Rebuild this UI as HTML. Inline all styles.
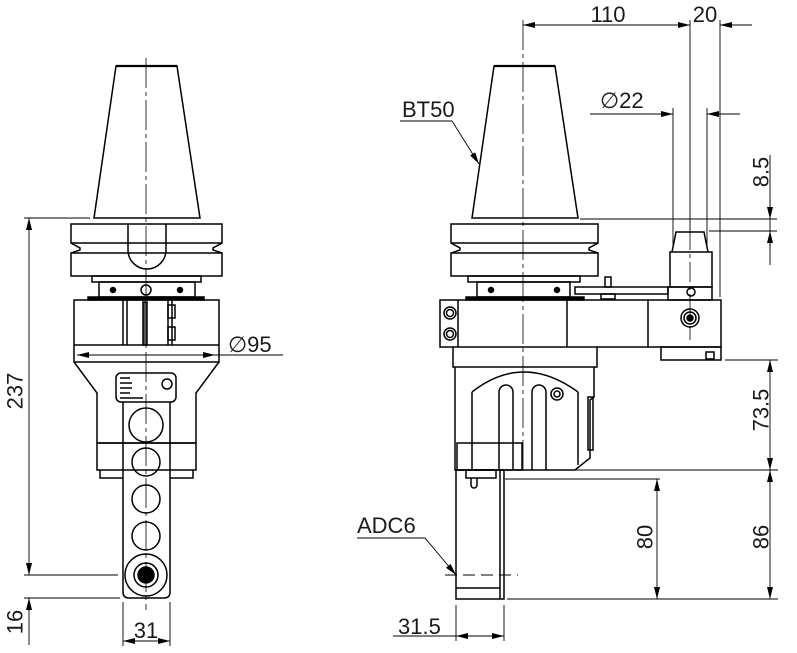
<!DOCTYPE html>
<html><head><meta charset="utf-8"><style>
html,body{margin:0;padding:0;background:#fff;}
svg{display:block;}
text{font-family:"Liberation Sans",sans-serif;fill:#1a1a1a;font-size:22px;}
</style></head><body>
<svg width="797" height="653" viewBox="0 0 797 653" xmlns="http://www.w3.org/2000/svg">
<defs>
<marker id="a" viewBox="0 0 12 6" refX="12" refY="3" markerWidth="12" markerHeight="6" orient="auto-start-reverse" markerUnits="userSpaceOnUse"><path d="M0,0 L12,3 L0,6z" fill="#000"/></marker>
</defs>
<g fill="none" stroke="#000" stroke-width="1.5">
<!-- LEFT VIEW -->
<line x1="146" y1="58" x2="146" y2="610" stroke-width="0.8" stroke-dasharray="30,4,4,4"/>
<path d="M116,66 L177,66 L200,218 L94,218 Z"/>
<line x1="116" y1="66" x2="177" y2="66" stroke-width="2.2"/>
<path d="M71,224 H222 V243 L213,248 V250 L222,253 V276 H71 V253 L80,250 V248 L71,243 Z"/>
<line x1="71" y1="243" x2="222" y2="243"/><line x1="71" y1="253" x2="222" y2="253"/>
<path d="M128,224 V250 A19,19 0 0 0 166,250 V224"/>
<rect x="92" y="276" width="109" height="6"/>
<rect x="99" y="282" width="96" height="15"/>
<circle cx="113" cy="290" r="2.5" fill="#000"/><circle cx="180" cy="290" r="2.5" fill="#000"/>
<circle cx="146" cy="290" r="5"/>
<rect x="88" y="297" width="116" height="3" fill="#000"/>
<rect x="74" y="300" width="145" height="62"/>
<line x1="74" y1="345" x2="219" y2="345"/>
<line x1="123" y1="300" x2="123" y2="345"/><line x1="127" y1="300" x2="127" y2="345"/>
<line x1="168" y1="300" x2="168" y2="345"/><line x1="172" y1="300" x2="172" y2="345"/>
<rect x="143" y="302" width="4" height="43" fill="#555"/>
<rect x="168" y="305" width="7" height="13"/><rect x="168" y="327" width="7" height="13"/>
<path d="M74,362 L97,393 V443 H196 V393 L219,362"/>
<rect x="97" y="443" width="99" height="27"/>
<path d="M100,470 V478 H123 M170,478 H193 V470"/>
<rect x="116" y="373" width="60" height="29" rx="5"/>
<g stroke-width="1.5"><line x1="120" y1="378" x2="130" y2="378"/><line x1="120" y1="383" x2="132" y2="383"/><line x1="120" y1="388" x2="132" y2="388"/><line x1="120" y1="393" x2="130" y2="393"/><line x1="120" y1="398" x2="143" y2="398"/></g>
<circle cx="167" cy="384" r="5"/>
<path d="M123,402 V592 Q123,598 129,598 H164 Q170,598 170,592 V402"/>
<circle cx="146" cy="425" r="17"/>
<circle cx="146" cy="462" r="14"/><circle cx="146" cy="499" r="14"/><circle cx="146" cy="536" r="14"/>
<circle cx="146" cy="575" r="21"/><circle cx="146" cy="575" r="12"/><circle cx="146" cy="575" r="8" fill="#000"/>
<!-- left dims -->
<g stroke-width="0.9">
<line x1="24" y1="218" x2="90" y2="218"/>
<line x1="29" y1="218" x2="29" y2="575" marker-start="url(#a)" marker-end="url(#a)"/>
<line x1="24" y1="575" x2="118" y2="575"/>
<line x1="24" y1="598" x2="120" y2="598"/>
<line x1="29" y1="598" x2="29" y2="645"/>
<line x1="29" y1="610" x2="29" y2="598" marker-end="url(#a)"/>
<line x1="123" y1="602" x2="123" y2="646"/><line x1="170" y1="602" x2="170" y2="646"/>
<line x1="123" y1="641" x2="170" y2="641" marker-start="url(#a)" marker-end="url(#a)"/>
<line x1="77" y1="355" x2="215" y2="355" marker-start="url(#a)" marker-end="url(#a)"/>
<line x1="215" y1="355" x2="283" y2="355"/>
</g>
<!-- RIGHT VIEW -->
<line x1="523" y1="20" x2="523" y2="470" stroke-width="0.8" stroke-dasharray="30,4,4,4"/>
<path d="M494,66 L555,66 L578,218 L472,218 Z"/>
<line x1="494" y1="66" x2="555" y2="66" stroke-width="2.2"/>
<path d="M451,224 H598 V243 L589,248 V250 L598,253 V276 H451 V253 L460,250 V248 L451,243 Z"/>
<line x1="451" y1="243" x2="598" y2="243"/><line x1="451" y1="253" x2="598" y2="253"/>
<rect x="468" y="276" width="112" height="6"/>
<rect x="477" y="282" width="93" height="15"/>
<circle cx="491" cy="290" r="2.5" fill="#000"/><circle cx="557" cy="290" r="2.5" fill="#000"/>
<rect x="466" y="297" width="118" height="3" fill="#000"/>
<rect x="440" y="300" width="281" height="47"/>
<line x1="458" y1="300" x2="458" y2="347"/>
<line x1="567" y1="300" x2="567" y2="347"/><line x1="648" y1="300" x2="648" y2="347"/>
<circle cx="450" cy="313" r="6"/><circle cx="450" cy="313" r="3.5"/>
<circle cx="450" cy="334" r="6"/><circle cx="450" cy="334" r="3.5"/>
<circle cx="690" cy="318" r="9"/><circle cx="690" cy="318" r="6"/><circle cx="690" cy="318" r="3" fill="#000"/>
<rect x="661" y="347" width="60" height="13"/><rect x="706" y="352" width="8" height="7"/>
<rect x="575" y="287" width="93" height="7"/>
<rect x="605" y="277" width="6" height="10"/><rect x="601" y="294" width="14" height="5"/>
<rect x="670" y="252" width="42" height="35"/>
<rect x="668" y="287" width="44" height="13"/>
<circle cx="691" cy="292" r="4"/>
<path d="M672,252 L676,232 H704 L708,252"/>
<line x1="690" y1="230" x2="690" y2="340" stroke-width="0.8" stroke-dasharray="20,4,4,4"/>
<path d="M453,347 V367 H597 V347"/>
<path d="M455,367 V470 H575 L590,458 V400 L594,397 V367"/>
<path d="M472,392 Q523,352 578,392"/>
<path d="M472,392 V470 M578,392 V465"/>
<path d="M499,470 V392 A7,7 0 1 1 513,392 V470"/>
<path d="M532,470 V392 A7,7 0 1 1 546,392 V470"/>
<circle cx="557" cy="394" r="6"/><circle cx="557" cy="394" r="3"/>
<rect x="588" y="397" width="5" height="53"/>
<rect x="457" y="443" width="65" height="27"/>
<rect x="456" y="470" width="48" height="129"/>
<line x1="500" y1="470" x2="500" y2="599"/>
<rect x="466" y="470" width="30" height="8"/>
<path d="M471,478 V485 A3,3 0 0 0 477,485 V478"/>
<line x1="456" y1="588" x2="500" y2="588"/>
<!-- right dims -->
<g stroke-width="0.9">
<line x1="523" y1="25" x2="690" y2="25" marker-start="url(#a)" marker-end="url(#a)"/>
<line x1="690" y1="20" x2="690" y2="230"/>
<line x1="720" y1="20" x2="720" y2="297"/>
<line x1="752" y1="25" x2="720" y2="25" marker-end="url(#a)"/>
<line x1="590" y1="114" x2="673" y2="114" marker-end="url(#a)"/>
<line x1="740" y1="114" x2="707" y2="114" marker-end="url(#a)"/>
<line x1="673" y1="108" x2="673" y2="245"/><line x1="707" y1="108" x2="707" y2="245"/>
<line x1="580" y1="219" x2="777" y2="219"/>
<line x1="709" y1="231" x2="777" y2="231"/>
<line x1="770" y1="155" x2="770" y2="265"/>
<line x1="770" y1="200" x2="770" y2="219" marker-end="url(#a)"/>
<line x1="770" y1="250" x2="770" y2="231" marker-end="url(#a)"/>
<line x1="725" y1="360" x2="778" y2="360"/>
<line x1="770" y1="360" x2="770" y2="470" marker-start="url(#a)" marker-end="url(#a)"/>
<line x1="568" y1="470" x2="778" y2="470"/>
<line x1="770" y1="470" x2="770" y2="599" marker-start="url(#a)" marker-end="url(#a)"/>
<line x1="505" y1="479" x2="660" y2="479"/>
<line x1="657" y1="479" x2="657" y2="599" marker-start="url(#a)" marker-end="url(#a)"/>
<line x1="507" y1="599" x2="778" y2="599"/>
<line x1="456" y1="605" x2="456" y2="641"/><line x1="504" y1="605" x2="504" y2="641"/>
<line x1="393" y1="636" x2="456" y2="636"/>
<line x1="456" y1="636" x2="504" y2="636" marker-start="url(#a)" marker-end="url(#a)"/>
<line x1="445" y1="575" x2="518" y2="575" stroke-dasharray="12,6"/>
<path d="M357,538 H425 L456,575" marker-end="url(#a)"/>
<path d="M400,121 H452 L479,164" marker-end="url(#a)"/>
</g>
</g>
<text x="15" y="391" transform="rotate(-90 15 391)" text-anchor="middle" dominant-baseline="central">237</text>
<text x="15" y="622" transform="rotate(-90 15 622)" text-anchor="middle" dominant-baseline="central">16</text>
<text x="146" y="638" text-anchor="middle">31</text>
<text x="228" y="352">∅95</text>
<text x="608" y="22" text-anchor="middle">110</text>
<text x="705" y="22" text-anchor="middle">20</text>
<text x="600" y="108">∅22</text>
<text x="402" y="117">BT50</text>
<text x="761" y="172" transform="rotate(-90 761 172)" text-anchor="middle" dominant-baseline="central">8.5</text>
<text x="761" y="410" transform="rotate(-90 761 410)" text-anchor="middle" dominant-baseline="central">73.5</text>
<text x="761" y="537" transform="rotate(-90 761 537)" text-anchor="middle" dominant-baseline="central">86</text>
<text x="645" y="537" transform="rotate(-90 645 537)" text-anchor="middle" dominant-baseline="central">80</text>
<text x="357" y="533">ADC6</text>
<text x="398" y="634">31.5</text>
</svg>
</body></html>
